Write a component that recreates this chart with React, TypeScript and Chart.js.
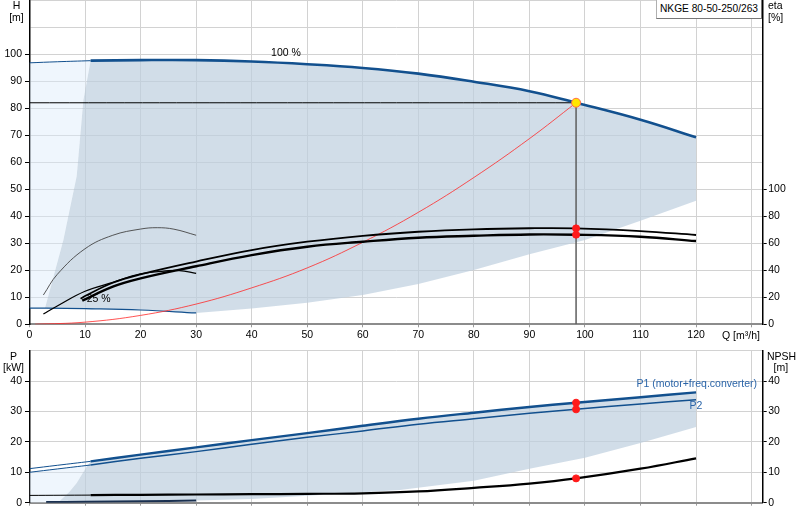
import { useEffect, useRef } from 'react'
import { Chart, registerables } from 'chart.js'

Chart.register(...registerables)

const FONT = '"Liberation Sans", Arial, sans-serif'
Chart.defaults.font.family = FONT
Chart.defaults.font.size = 10.5
Chart.defaults.color = '#000'

// ---- upper diagram: head H [m] and efficiency eta [%] over Q [m³/h]
const H100_LOW_Q = [0, 5, 11]
const H100_LOW_H = [96.9, 97.3, 97.7]
const H100_Q = [11, 20, 30, 40, 50, 60, 70, 80, 90, 98.4, 110, 120]
const H100_H = [97.7, 97.9, 97.9, 97.4, 96.4, 95.0, 92.9, 89.9, 86.4, 82.1, 75.8, 69.3]
const H25_Q = [0, 3, 10, 20, 30]
const H25_H = [6.0, 6.0, 5.8, 5.3, 4.2]
const SYS_Q = [1, 10, 20, 30, 40, 50, 60, 70, 80, 90, 98.4]
const SYS_H = [0, 0.8, 3.3, 7.5, 13.5, 20.9, 30.4, 41.5, 54.4, 68.8, 82.1]

const ETA_P_Q = [9.2, 10, 15, 20, 30, 40, 50, 60, 70, 80, 90, 98.4, 110, 120]
const ETA_P = [19, 21, 30.8, 37, 46.5, 55, 61.2, 65.6, 68.6, 70.4, 71.2, 71.1, 69.1, 66.2]
const ETA_T_Q = [9.5, 15, 20, 30, 40, 50, 60, 70, 80, 90, 98.4, 110, 120]
const ETA_T = [17.5, 27.9, 34, 43, 51.3, 57.5, 61.2, 64.2, 65.6, 66.6, 66.4, 64.9, 61.7]
const ETA25_P_Q = [2.5, 5, 10, 15, 20, 23, 26, 30]
const ETA25_P = [21.7, 37, 56, 66, 70.6, 71.6, 70.5, 66]
const ETA25_T_Q = [2.5, 5, 10, 15, 20, 25, 27, 30]
const ETA25_T = [7.6, 13.6, 24.5, 31, 37.3, 39.7, 39.8, 37.8]

// operating range outline (upper)
const RANGE_LEFT_Q = [2.8, 6.1, 8.5, 9.7, 11]
const RANGE_LEFT_H = [6.0, 31.2, 55, 83, 97.7]
const RANGE_LOW_Q = [120, 110, 100, 90, 80, 70, 60, 50, 40, 30]
const RANGE_LOW_H = [45.8, 38.4, 31.2, 26.0, 20.1, 14.9, 10.9, 8.0, 5.9, 4.2]

// duty point
const OP_Q = 98.4
const OP_H = 82.1
const OP_ETA = [71.1, 66.4]
const OP_P = [32.9, 30.7]
const OP_NPSH = 8.0

// ---- lower diagram: power P [kW] and NPSH [m]
const P_LOW_Q = [0, 5, 11]
const P1_LOW = [11.2, 12.3, 13.6]
const P2_LOW = [10.0, 11.1, 12.4]
const P_Q = [11, 20, 30, 40, 50, 60, 70, 80, 90, 98.4, 110, 120]
const P1 = [13.6, 15.8, 18.2, 20.6, 22.9, 25.3, 27.6, 29.6, 31.5, 32.9, 34.7, 36.3]
const P2 = [12.4, 14.6, 16.8, 19.2, 21.5, 23.6, 25.8, 27.6, 29.4, 30.7, 32.5, 33.9]
const NPSH_LOW_Q = [0, 11]
const NPSH_LOW = [2.4, 2.5]
const NPSH_Q = [11, 20, 30, 40, 50, 60, 70, 80, 90, 98.4, 110, 120]
const NPSH = [2.5, 2.6, 2.7, 2.8, 2.9, 3.1, 3.7, 4.9, 6.3, 8.0, 11.2, 14.6]
const P25_Q = [3, 10, 20, 30]
const P25 = [0.2, 0.3, 0.5, 0.7]
const PRANGE_LEFT_Q = [3, 5.4, 7.2, 8.5, 10, 11]
const PRANGE_LEFT = [0.2, 0.5, 3.6, 6.5, 11, 13.6]
const PRANGE_LOW_Q = [120, 110, 100, 90, 80, 66.7, 50, 40, 30]
const PRANGE_LOW = [24.9, 19.6, 14.8, 11.2, 7.2, 4.2, 2.3, 1.2, 0.7]

const BLUE = '#12508e'
const LABEL_BLUE = '#2a64a8'
const GRID = '#d2d2d2'
const DARK_FILL = 'rgba(190, 206, 222, 0.7)'
const LIGHT_FILL = 'rgba(220, 235, 250, 0.45)'

type Pt = { x: number; y: number }
const pts = (qs: number[], vs: number[]): Pt[] => qs.map((q, i) => ({ x: q, y: vs[i] }))

const topLight: Pt[] = [
  { x: 0, y: H25_H[0] },
  ...pts(H100_LOW_Q, H100_LOW_H),
  ...pts(RANGE_LEFT_Q, RANGE_LEFT_H).slice(0, -1).reverse(),
]
const topDark: Pt[] = [
  ...pts(RANGE_LEFT_Q, RANGE_LEFT_H),
  ...pts(H100_Q, H100_H).slice(1),
  ...pts(RANGE_LOW_Q, RANGE_LOW_H),
  ...pts(H25_Q, H25_H).slice(2, -1).reverse(),
]
const botLight: Pt[] = [
  { x: 0, y: 0 },
  ...pts(P_LOW_Q, P2_LOW),
  { x: 10, y: 11 },
  ...pts(PRANGE_LEFT_Q, PRANGE_LEFT).slice(0, 4).reverse(),
  { x: 3, y: 0 },
]
const botDark: Pt[] = [
  ...pts(PRANGE_LEFT_Q, PRANGE_LEFT),
  ...pts(P_Q, P1).slice(1),
  ...pts(PRANGE_LOW_Q, PRANGE_LOW),
  ...pts(P25_Q, P25).slice(1, -1).reverse(),
]

type TextItem = { text: string; q: number; v: number; color: string }

const textPlugin = (items: TextItem[]) => ({
  id: 'curveTexts',
  afterDatasetsDraw(chart: any) {
    const { ctx } = chart
    const xs = chart.scales.x
    const ys = chart.scales.y
    ctx.save()
    ctx.font = `10.5px ${FONT}`
    ctx.textBaseline = 'middle'
    ctx.textAlign = 'left'
    for (const t of items) {
      ctx.fillStyle = t.color
      ctx.fillText(t.text, xs.getPixelForValue(t.q), ys.getPixelForValue(t.v))
    }
    ctx.restore()
  },
})

const labelUpTo = (lim: number) => (v: any) => (Number(v) <= lim ? String(v) : '')
const tickColorUpTo = (lim: number) => (ctx: any) =>
  ctx.tick && ctx.tick.value <= lim ? '#000' : 'rgba(0,0,0,0)'

function xScale(height: number, labels: boolean) {
  return {
    type: 'linear',
    min: 0,
    max: 132,
    ticks: { stepSize: 10, includeBounds: false, autoSkip: false, maxRotation: 0, padding: 2, display: labels, callback: labelUpTo(120) },
    grid: { color: GRID, lineWidth: 1, tickLength: 3, tickColor: '#9a9a9a' },
    border: { color: '#8c8c8c', width: 2 },
    afterFit: (s: any) => {
      s.height = height
      s.paddingLeft = 0
      s.paddingRight = 0
    },
  }
}

function yScale(position: 'left' | 'right', max: number, step: number, lim: number, width: number, onArea: boolean) {
  return {
    type: 'linear',
    position,
    min: 0,
    max,
    ticks: { stepSize: step, includeBounds: false, padding: position === 'left' ? 3 : 1.5, callback: labelUpTo(lim) },
    grid: {
      color: GRID,
      lineWidth: 1,
      drawOnChartArea: onArea,
      tickLength: position === 'left' ? 4.5 : 4,
      tickColor: tickColorUpTo(lim),
    },
    border: { color: '#000', width: 1.5 },
    afterFit: (s: any) => {
      s.width = width
      s.paddingTop = 0
      s.paddingBottom = 0
    },
  }
}

const line = (data: Pt[], color: string, width: number, order: number, yAxisID = 'y') => ({
  data,
  borderColor: color,
  borderWidth: width,
  pointRadius: 0,
  fill: false,
  tension: 0.4,
  order,
  yAxisID,
})

const area = (data: Pt[], color: string, order: number) => ({
  data,
  borderColor: 'transparent',
  borderWidth: 0,
  backgroundColor: color,
  pointRadius: 0,
  fill: 'shape',
  tension: 0,
  order,
  yAxisID: 'y',
})

const dots = (data: Pt[], yAxisID: string, order: number, bg = '#ff1a1a', border = '#ff1a1a', r = 3.5) => ({
  data,
  showLine: false,
  pointRadius: r,
  pointBackgroundColor: bg,
  pointBorderColor: border,
  pointBorderWidth: 1,
  order,
  yAxisID,
})

function buildTop(canvas: HTMLCanvasElement) {
  return new Chart(canvas, {
    type: 'line',
    data: {
      datasets: [
        area(topLight, LIGHT_FILL, 20),
        area(topDark, DARK_FILL, 19),
        line(pts(H25_Q, H25_H), BLUE, 1.2, 10),
        line(pts(SYS_Q, SYS_H), 'rgba(255, 40, 40, 0.8)', 1, 9),
        line(pts(ETA25_P_Q, ETA25_P), '#444', 0.9, 8, 'y2'),
        line(pts(ETA25_T_Q, ETA25_T), '#000', 1.3, 8, 'y2'),
        line(pts(ETA_P_Q, ETA_P), '#000', 1.8, 7, 'y2'),
        line(pts(ETA_T_Q, ETA_T), '#000', 2.4, 7, 'y2'),
        line([{ x: 0, y: OP_H }, { x: OP_Q, y: OP_H }], '#000', 1, 6),
        line([{ x: OP_Q, y: OP_H }, { x: OP_Q, y: 0 }], '#5e5e5e', 1.5, 6),
        line(pts(H100_LOW_Q, H100_LOW_H), BLUE, 1, 5),
        line(pts(H100_Q, H100_H), BLUE, 2.6, 5),
        dots(OP_ETA.map(v => ({ x: OP_Q, y: v })), 'y2', 2),
        dots([{ x: OP_Q, y: OP_H }], 'y', 1, '#ffe600', '#ff6a4a', 4.5),
      ] as any,
    },
    options: {
      responsive: true,
      maintainAspectRatio: false,
      animation: false,
      events: [],
      layout: { autoPadding: false, padding: { top: 0.5, left: 0, right: 0, bottom: 0 } },
      plugins: { legend: { display: false }, tooltip: { enabled: false } },
      scales: {
        x: xScale(15.7, true),
        y: yScale('left', 120, 10, 100, 29.5, true),
        y2: yScale('right', 240, 20, 100, 37.3, false),
      } as any,
    },
    plugins: [
      textPlugin([
        { text: '100 %', q: 43.5, v: 100.6, color: '#000' },
        { text: '25 %', q: 10.3, v: 9.3, color: '#000' },
      ]),
    ],
  })
}

function buildBottom(canvas: HTMLCanvasElement) {
  return new Chart(canvas, {
    type: 'line',
    data: {
      datasets: [
        area(botLight, LIGHT_FILL, 20),
        area(botDark, DARK_FILL, 19),
        line(pts(P25_Q, P25), '#1a3050', 2, 10),
        line(pts(NPSH_LOW_Q, NPSH_LOW), '#000', 1, 9, 'y2'),
        line(pts(NPSH_Q, NPSH), '#000', 2.2, 9, 'y2'),
        line(pts(P_LOW_Q, P2_LOW), BLUE, 1, 8),
        line(pts(P_Q, P2), BLUE, 1.5, 8),
        line(pts(P_LOW_Q, P1_LOW), BLUE, 1, 7),
        line(pts(P_Q, P1), BLUE, 2.4, 7),
        dots(OP_P.map(v => ({ x: OP_Q, y: v })), 'y', 2),
        dots([{ x: OP_Q, y: OP_NPSH }], 'y2', 2),
      ] as any,
    },
    options: {
      responsive: true,
      maintainAspectRatio: false,
      animation: false,
      events: [],
      layout: { autoPadding: false, padding: { top: 10.7, left: 0, right: 0, bottom: 0 } },
      plugins: { legend: { display: false }, tooltip: { enabled: false } },
      scales: {
        x: xScale(17.3, false),
        y: yScale('left', 50, 10, 40, 29.5, true),
        y2: yScale('right', 50, 10, 40, 37.3, false),
      } as any,
    },
    plugins: [
      textPlugin([
        { text: 'P1 (motor+freq.converter)', q: 109.3, v: 39.1, color: LABEL_BLUE },
        { text: 'P2', q: 118.8, v: 31.8, color: LABEL_BLUE },
      ]),
    ],
  })
}

const txt = (left: number, top: number, width?: number): React.CSSProperties => ({
  position: 'absolute',
  left,
  top,
  width,
  textAlign: width ? 'center' : 'left',
  fontFamily: FONT,
  fontSize: 10.5,
  lineHeight: '12px',
  color: '#000',
  whiteSpace: 'nowrap',
})

export default function App() {
  const topRef = useRef<HTMLCanvasElement>(null)
  const botRef = useRef<HTMLCanvasElement>(null)

  useEffect(() => {
    if (!topRef.current || !botRef.current) return
    const a = buildTop(topRef.current)
    const b = buildBottom(botRef.current)
    return () => { a.destroy(); b.destroy() }
  }, [])

  return (
    <div style={{ position: 'absolute', left: 0, top: 0, width: 800, height: 520, background: '#fff', overflow: 'hidden' }}>
      <div style={{ position: 'absolute', left: 0, top: 0, width: 800, height: 340 }}>
        <canvas ref={topRef} />
      </div>
      <div style={{ position: 'absolute', left: 0, top: 340, width: 800, height: 180 }}>
        <canvas ref={botRef} />
      </div>

      <div style={txt(6, -1, 21)}>H</div>
      <div style={txt(6, 11, 21)}>[m]</div>
      <div style={txt(768, -1)}>eta</div>
      <div style={txt(768, 11)}>[%]</div>
      <div style={txt(722, 329)}>Q [m³/h]</div>

      <div style={txt(3, 349.5, 21)}>P</div>
      <div style={txt(3, 360.7, 21)}>[kW]</div>
      <div style={txt(767, 349.5)}>NPSH</div>
      <div style={txt(773.5, 360.7)}>[m]</div>

      <div
        style={{
          position: 'absolute',
          left: 656,
          top: -1,
          width: 106,
          height: 20,
          background: '#fff',
          borderLeft: '1px solid #b0b0b0',
          borderTop: '1px solid #b0b0b0',
          borderRight: '1px solid #777',
          borderBottom: '1px solid #777',
          fontFamily: FONT,
          fontSize: 10.2,
          lineHeight: '18px',
          paddingLeft: 3,
          boxSizing: 'border-box',
          whiteSpace: 'nowrap',
        }}
      >
        NKGE 80-50-250/263
      </div>
    </div>
  )
}
